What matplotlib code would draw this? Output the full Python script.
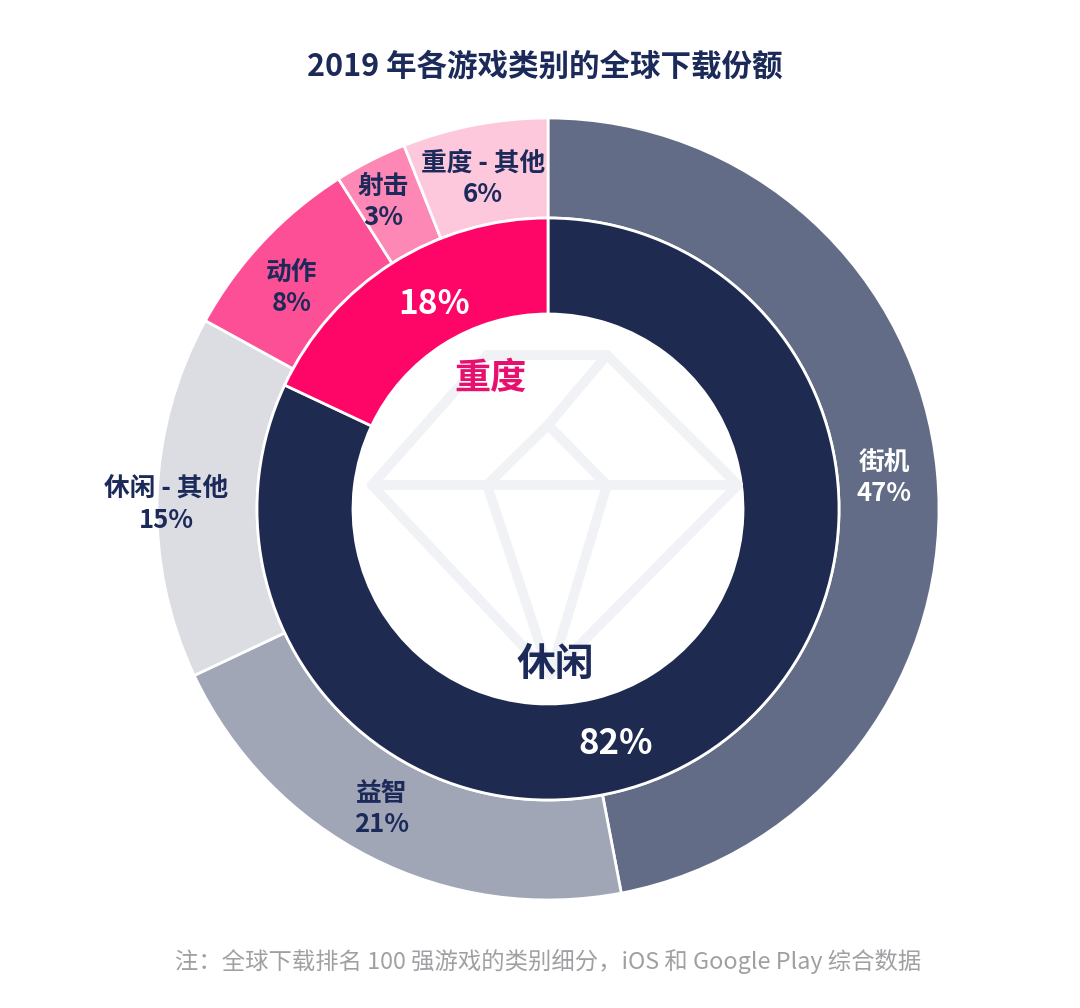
import matplotlib
matplotlib.use("Agg")
import matplotlib.pyplot as plt

plt.rcParams['font.family'] = ['Noto Sans CJK SC', 'DejaVu Sans']

title = "2019 年各游戏类别的全球下载份额"
footnote = "注：全球下载排名 100 强游戏的类别细分，iOS 和 Google Play 综合数据"

outer_labels = ["街机", "益智", "休闲 - 其他", "动作", "射击", "重度 - 其他"]
outer_values = [47, 21, 15, 8, 3, 6]
outer_colors = ["#636c86", "#a0a6b6", "#dcdde2", "#fd4f95", "#fd87b5", "#fec8dc"]
outer_text_colors = ["white", "#1c2a5a", "#1c2a5a", "#1c2a5a", "#1c2a5a", "#1c2a5a"]

inner_labels = ["休闲", "重度"]
inner_values = [82, 18]
inner_colors = ["#1e2a50", "#fe0568"]

W, H = 1080, 1008
fig = plt.figure(figsize=(W / 100, H / 100), dpi=100)
ax = fig.add_axes([0, 0, 1, 1])

cx, cy = 548, H - 509
R_out, R_mid, R_in = 391, 291, 195

def Y(py):
    return H - py

# watermark diamond
L, Rr = (372, 485), (738, 485)
TL, TR = (487, 355), (607, 355)
B = (550, 675)
IL, IR, IA = (487, 485), (607, 485), (548, 425)
segs = [(L, TL), (TL, TR), (TR, Rr), (L, Rr), (L, B), (Rr, B),
        (IL, IA), (IA, IR), (TR, IA), (IL, B), (IR, B)]

ax.pie(outer_values, radius=R_out, center=(cx, cy), startangle=90,
       counterclock=False, colors=outer_colors,
       wedgeprops=dict(width=R_out - R_mid, edgecolor="white", linewidth=2))
ax.pie(inner_values, radius=R_mid, center=(cx, cy), startangle=90,
       counterclock=False, colors=inner_colors,
       wedgeprops=dict(width=R_mid - R_in, edgecolor="white", linewidth=2))

for a, b in segs:
    ax.plot([a[0], b[0]], [Y(a[1]), Y(b[1])], color="#f1f2f5", lw=7,
            solid_capstyle="round", zorder=1)

ax.set_xlim(0, W)
ax.set_ylim(0, H)
ax.set_aspect("equal")
ax.axis("off")

outer_pos = [(884, 478), (382, 809), (166, 505), (292, 288), (383, 202), (483, 179)]
for lab, v, c, (px, py) in zip(outer_labels, outer_values, outer_text_colors, outer_pos):
    ax.text(px, Y(py), f"{lab}\n{v}%", ha="center", va="center", color=c,
            fontsize=18.5, fontweight="bold", linespacing=1.2, zorder=5)

ax.text(434, Y(305), f"{inner_values[1]}%", ha="center", va="center",
        color="white", fontsize=24, fontweight="bold", zorder=5)
ax.text(490, Y(378), inner_labels[1], ha="center", va="center",
        color="#e8106e", fontsize=26, fontweight="bold", zorder=5)
ax.text(555, Y(664), inner_labels[0], ha="center", va="center",
        color="#1c2a5a", fontsize=28, fontweight="bold", zorder=5)
ax.text(616, Y(743), f"{inner_values[0]}%", ha="center", va="center",
        color="white", fontsize=25, fontweight="bold", zorder=5)

ax.text(545, Y(67), title, ha="center", va="center", color="#1c2a5a",
        fontsize=22, fontweight="bold")
ax.text(548, Y(961), footnote, ha="center", va="center", color="#a0a0a4",
        fontsize=16.8)

fig.savefig("out.png", dpi=100, facecolor="white")
